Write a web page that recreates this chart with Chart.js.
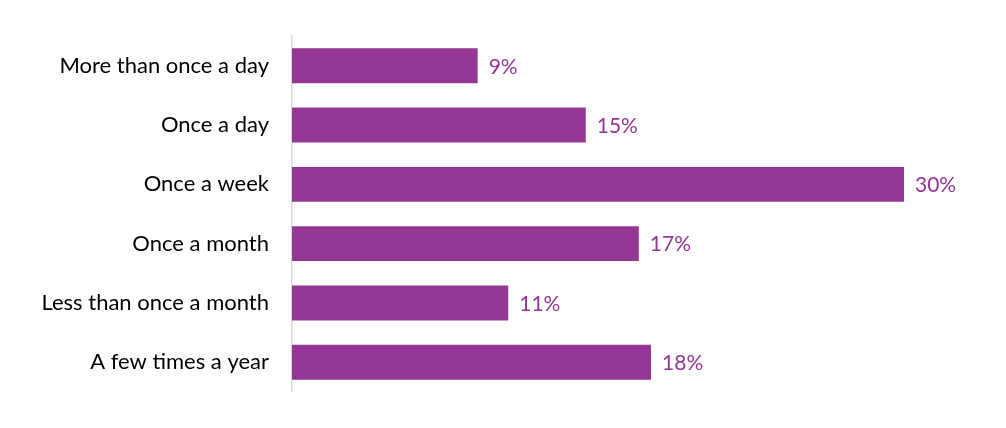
<!DOCTYPE html>
<html><head><meta charset="utf-8">
<script src="https://cdn.jsdelivr.net/npm/chart.js@4"></script>
<style>html,body{margin:0;padding:0;background:#fff;overflow:hidden}</style>
</head><body><canvas id="c" width="1006" height="428" style="width:1006px;height:428px;display:block"></canvas>
<script>
const categories = ["More than once a day","Once a day","Once a week","Once a month","Less than once a month","A few times a year"];
const values = [9.1, 14.4, 30.0, 17.0, 10.6, 17.6];
const valueLabels = ["9%","15%","30%","17%","11%","18%"];
const purple = "#933694";
const labelPlugin = {
  id:'lbl',
  afterDatasetsDraw(chart){
    const ctx = chart.ctx;
    const meta = chart.getDatasetMeta(0);
    ctx.save();
    ctx.fillStyle = purple;
    ctx.font = '21px Lato, "Open Sans", sans-serif';
    ctx.textBaseline = 'middle';
    meta.data.forEach((b,i)=>{ ctx.fillText(valueLabels[i], b.x + 11, b.y + 1); });
    ctx.restore();
  }
};
new Chart(document.getElementById('c'), {
  type:'bar',
  data:{labels:categories, datasets:[{data:values, backgroundColor:purple, barPercentage:0.59, categoryPercentage:1}]},
  options:{
    indexAxis:'y', responsive:false, animation:false, devicePixelRatio:1,
    layout:{padding:{top:9,bottom:10,right:0,left:0}},
    plugins:{legend:{display:false}, tooltip:{enabled:false}},
    scales:{
      x:{min:0,max:35,display:false},
      y:{
        afterFit(s){ s.width = 292; },
        grid:{display:false, drawTicks:false},
        border:{display:true,color:'#d9d9d9',width:1.5},
        ticks:{color:'#000', padding:23, font:{family:'Lato, "Open Sans", sans-serif', size:22}}
      }
    }
  },
  plugins:[labelPlugin]
});
</script></body></html>
